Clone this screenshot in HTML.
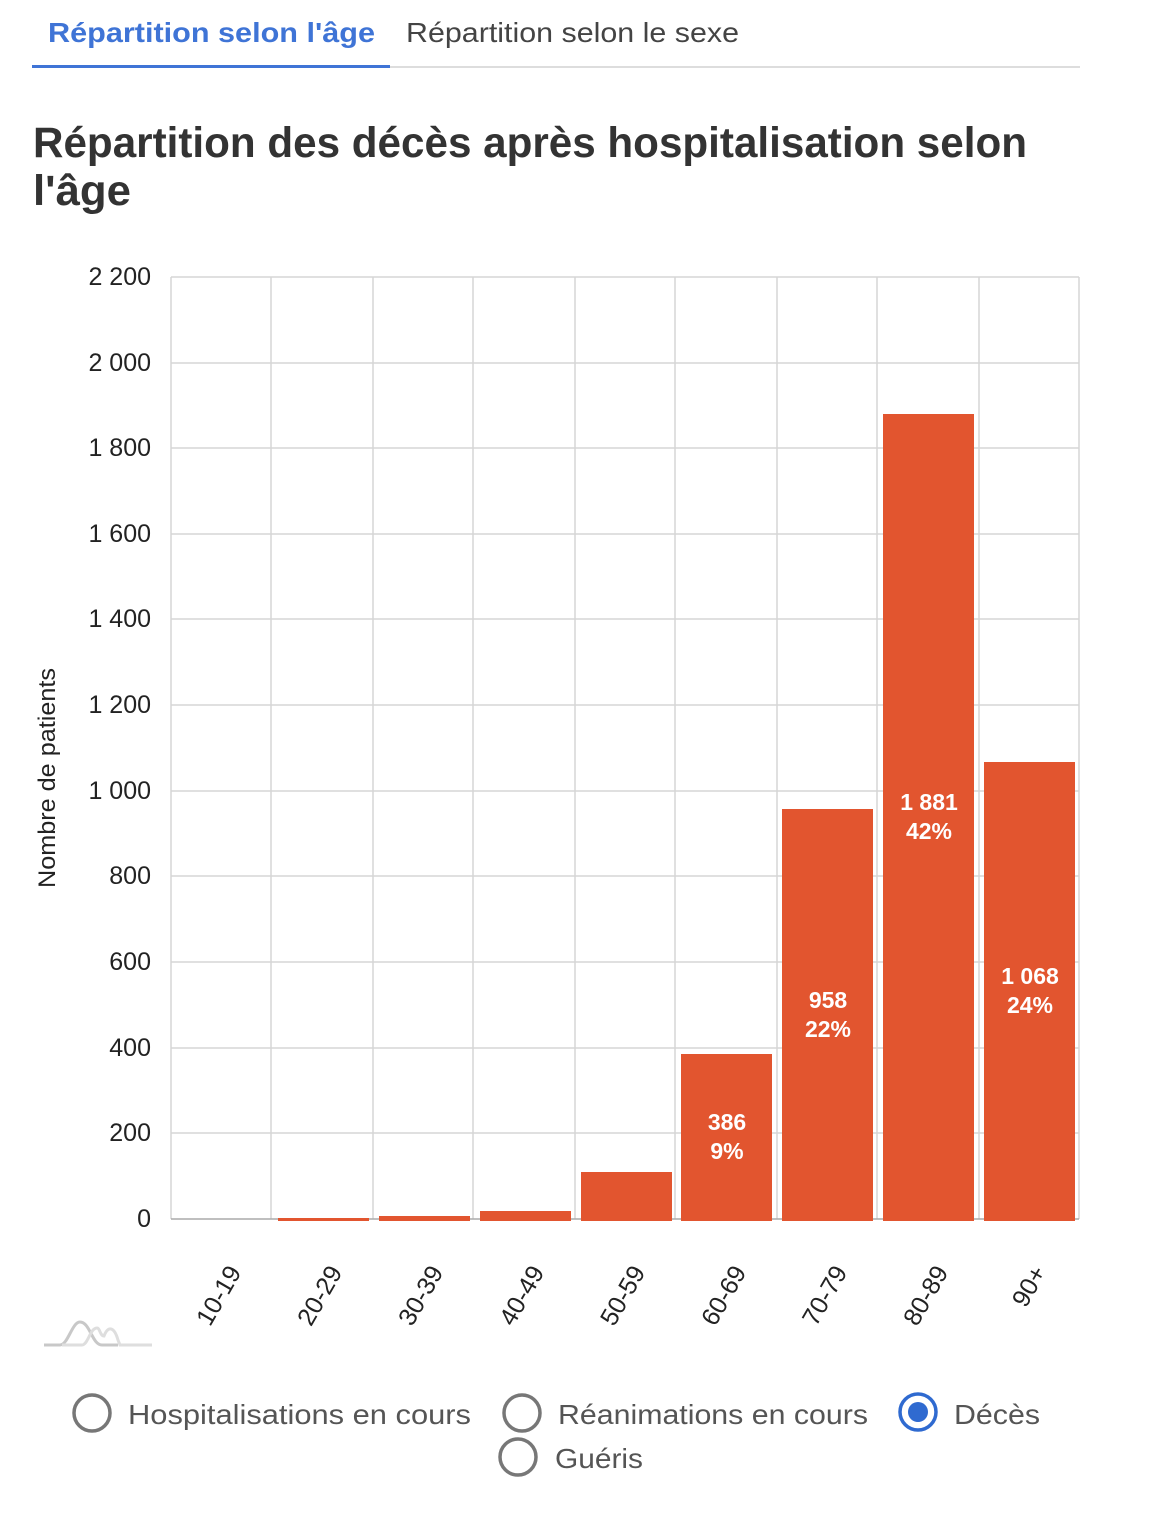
<!DOCTYPE html>
<html><head><meta charset="utf-8"><style>
html,body{margin:0;padding:0;background:#fff;}
svg{display:block;}
text{font-family:"Liberation Sans",sans-serif;}
</style></head><body>
<svg width="1160" height="1540" viewBox="0 0 1160 1540" xmlns="http://www.w3.org/2000/svg">
<!-- tabs -->
<text x="48" y="42" font-size="28" font-weight="bold" fill="#3f74d6" textLength="327" lengthAdjust="spacingAndGlyphs">Répartition selon l'âge</text>
<text x="406" y="42" font-size="28" fill="#444" textLength="333" lengthAdjust="spacingAndGlyphs">Répartition selon le sexe</text>
<rect x="32" y="66" width="1048" height="2" fill="#ddd"/>
<rect x="32" y="65" width="358" height="3" fill="#3f74d6"/>
<!-- title -->
<text x="33" y="157" font-size="43" font-weight="bold" fill="#333" textLength="994" lengthAdjust="spacingAndGlyphs">Répartition des décès après hospitalisation selon</text>
<text x="33" y="205" font-size="43" font-weight="bold" fill="#333" textLength="98" lengthAdjust="spacingAndGlyphs">l'âge</text>
<!-- grid -->
<g stroke="#d6d6d6" stroke-width="1.5">
<line x1="171" y1="277" x2="1079" y2="277"/>
<line x1="171" y1="363" x2="1079" y2="363"/>
<line x1="171" y1="448" x2="1079" y2="448"/>
<line x1="171" y1="534" x2="1079" y2="534"/>
<line x1="171" y1="619" x2="1079" y2="619"/>
<line x1="171" y1="705" x2="1079" y2="705"/>
<line x1="171" y1="791" x2="1079" y2="791"/>
<line x1="171" y1="876" x2="1079" y2="876"/>
<line x1="171" y1="962" x2="1079" y2="962"/>
<line x1="171" y1="1048" x2="1079" y2="1048"/>
<line x1="171" y1="1133" x2="1079" y2="1133"/>
<line x1="171" y1="277" x2="171" y2="1219"/>
<line x1="271" y1="277" x2="271" y2="1219"/>
<line x1="373" y1="277" x2="373" y2="1219"/>
<line x1="473" y1="277" x2="473" y2="1219"/>
<line x1="575" y1="277" x2="575" y2="1219"/>
<line x1="675" y1="277" x2="675" y2="1219"/>
<line x1="777" y1="277" x2="777" y2="1219"/>
<line x1="877" y1="277" x2="877" y2="1219"/>
<line x1="979" y1="277" x2="979" y2="1219"/>
<line x1="1079" y1="277" x2="1079" y2="1219"/>
</g>
<line x1="171" y1="1219" x2="1079" y2="1219" stroke="#aaa" stroke-width="1.5"/>
<!-- y labels -->
<g font-size="25" fill="#222" text-anchor="end">
<text x="151" y="285">2 200</text>
<text x="151" y="371">2 000</text>
<text x="151" y="456">1 800</text>
<text x="151" y="542">1 600</text>
<text x="151" y="627">1 400</text>
<text x="151" y="713">1 200</text>
<text x="151" y="799">1 000</text>
<text x="151" y="884">800</text>
<text x="151" y="970">600</text>
<text x="151" y="1056">400</text>
<text x="151" y="1141">200</text>
<text x="151" y="1227">0</text>
</g>
<text transform="translate(55,888) rotate(-90)" font-size="24" fill="#222" textLength="220" lengthAdjust="spacingAndGlyphs">Nombre de patients</text>
<!-- bars -->
<g fill="#e2552f">
<rect x="278" y="1218" width="91" height="3"/>
<rect x="379" y="1216" width="91" height="5"/>
<rect x="480" y="1211" width="91" height="10"/>
<rect x="581" y="1172" width="91" height="49"/>
<rect x="681" y="1054" width="91" height="167"/>
<rect x="782" y="809" width="91" height="412"/>
<rect x="883" y="414" width="91" height="807"/>
<rect x="984" y="762" width="91" height="459"/>
</g>
<g font-size="23" font-weight="bold" fill="#fff" text-anchor="middle">
<text x="727" y="1130">386</text><text x="727" y="1159">9%</text>
<text x="828" y="1008">958</text><text x="828" y="1037">22%</text>
<text x="929" y="810">1 881</text><text x="929" y="839">42%</text>
<text x="1030" y="984">1 068</text><text x="1030" y="1013">24%</text>
</g>
<!-- x labels -->
<g font-size="25" fill="#222" text-anchor="end">
<text transform="translate(242,1272) rotate(-60)">10-19</text>
<text transform="translate(343,1272) rotate(-60)">20-29</text>
<text transform="translate(444,1272) rotate(-60)">30-39</text>
<text transform="translate(545,1272) rotate(-60)">40-49</text>
<text transform="translate(646,1272) rotate(-60)">50-59</text>
<text transform="translate(747,1272) rotate(-60)">60-69</text>
<text transform="translate(848,1272) rotate(-60)">70-79</text>
<text transform="translate(949,1272) rotate(-60)">80-89</text>
<text transform="translate(1047,1272) rotate(-60)">90+</text>
</g>
<!-- logo -->
<path d="M44 1345 H60 C68 1345 72 1322 80 1322 C90 1322 92 1345 102 1345 H118" fill="none" stroke="#c8c8c8" stroke-width="3"/>
<path d="M62 1345 H82 C88 1345 90 1328 97 1328 C100 1328 100 1336 104 1336 C108 1326 114 1326 118 1340 L120 1345 H152" fill="none" stroke="#dedede" stroke-width="3"/>
<!-- radios -->
<g fill="none" stroke="#777" stroke-width="3.5">
<circle cx="92" cy="1413" r="18"/>
<circle cx="522" cy="1413" r="18"/>
<circle cx="518" cy="1457" r="18"/>
</g>
<circle cx="918" cy="1412" r="18" fill="none" stroke="#2f6ad0" stroke-width="3.5"/>
<circle cx="918" cy="1412" r="10" fill="#2f6ad0"/>
<g font-size="28" fill="#555">
<text x="128" y="1424" textLength="343" lengthAdjust="spacingAndGlyphs">Hospitalisations en cours</text>
<text x="558" y="1424" textLength="310" lengthAdjust="spacingAndGlyphs">Réanimations en cours</text>
<text x="954" y="1424" textLength="86" lengthAdjust="spacingAndGlyphs">Décès</text>
<text x="555" y="1468" textLength="88" lengthAdjust="spacingAndGlyphs">Guéris</text>
</g>
</svg>
</body></html>
